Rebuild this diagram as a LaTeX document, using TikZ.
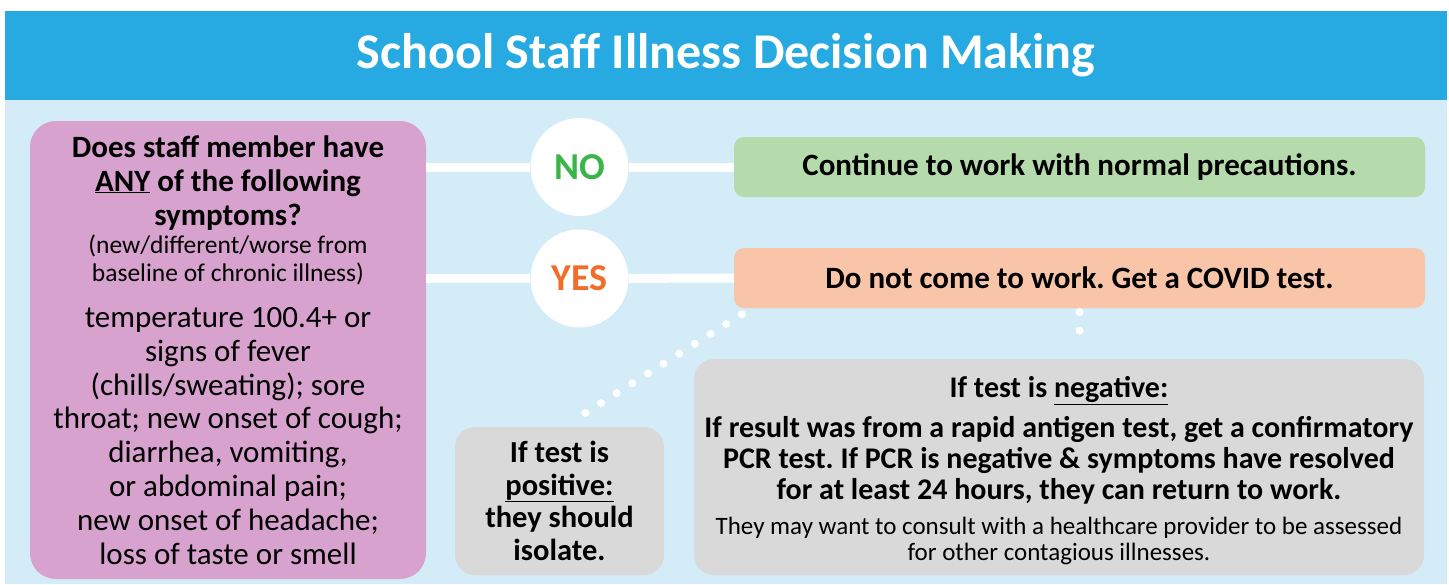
\documentclass[tikz,border=0pt]{standalone}
\usepackage{fontspec}
\setmainfont{Carlito}
\usepackage{xcolor}
\usepackage{tikz}
\usetikzlibrary{calc,positioning}
\frenchspacing
\definecolor{headblue}{HTML}{27A9E1}
\definecolor{paleblue}{HTML}{D4ECF8}
\definecolor{symppink}{HTML}{D8A2CF}
\definecolor{nogreen}{HTML}{B5DBAC}
\definecolor{yesorange}{HTML}{F9C5A9}
\definecolor{testgrey}{HTML}{D9D9D9}
\definecolor{notext}{HTML}{39B54A}
\definecolor{yestext}{HTML}{F26C2A}
\newcommand{\fsz}[2]{\fontsize{#1}{#2}\selectfont}
\tikzset{
  box/.style={rounded corners=10pt, align=center, inner sep=0pt},
  outbox/.style={box, minimum width=691, minimum height=60, font=\fsz{31}{34}\bfseries},
  testbox/.style={box, rounded corners=20pt, fill=testgrey},
  answer/.style={circle, fill=white, minimum size=98, inner sep=0pt, font=\fsz{38}{40}\bfseries},
  link/.style={white, line width=9pt},
  dots/.style={white, line width=8pt, line cap=round, dash pattern=on 0pt off 18.5pt}
}

\begin{document}
\begin{tikzpicture}[x=1pt, y=-1pt]
  \useasboundingbox (0,0) rectangle (1449,584);
  \fill[paleblue] (5,100) rectangle (1447,584);
  \node[fill=headblue, minimum width=1442, minimum height=89, inner sep=0pt,
        text=white, font=\fsz{50}{54}\bfseries] (title) at (726,55.5)
        {School Staff Illness Decision Making};

  \node[box, rounded corners=26pt, fill=symppink, minimum width=396, minimum height=458,
        font=\fsz{31}{33.8}] (symp) at (228,350)
    {\bfseries Does staff member have\\
     \bfseries \underline{ANY} of the following\\
     \bfseries symptoms?\\[-5pt]
     \fsz{25.5}{28}(new/different/worse from\\[-6pt]
     \fsz{25.5}{28}baseline of chronic illness)\\[12pt]
     temperature 100.4+ or\\
     signs of fever\\
     (chills/sweating); sore\\
     throat; new onset of cough;\\
     diarrhea, vomiting,\\
     or abdominal pain;\\
     new onset of headache;\\
     loss of taste or smell};

  \node[answer, text=notext] (no) at (579.5,167) {NO};
  \node[answer, text=yestext, below=13pt of no] (yes) {YES};

  \node[outbox, fill=nogreen] (work) at (1079.5,167) {Continue to work with normal precautions.};
  \node[outbox, fill=yesorange] (covid) at (1079.5,278) {Do not come to work. Get a COVID test.};

  \node[testbox, minimum width=209, minimum height=148, font=\fsz{30.5}{32.5}\bfseries] (pos) at (559.5,501)
    {If test is\\
     \underline{positive:}\\
     they should\\
     isolate.};

  \node[testbox, minimum width=730, minimum height=216, font=\fsz{30}{31}\bfseries] (neg) at (1059,467)
    {\rule{0pt}{28pt}If test is \underline{negative:}\\[9pt]
     If result was from a rapid antigen test, get a confirmatory\\
     PCR test. If PCR is negative \& symptoms have resolved\\
     for at least 24 hours, they can return to work.\\[4pt]
     \fsz{25}{26}\mdseries They may want to consult with a healthcare provider to be assessed\\[-5pt]
     \fsz{25}{26}\mdseries for other contagious illnesses.};

  % connectors
  \draw[link] (symp.east |- no.center) -- (no.west);
  \draw[link] (no.east) -- (work.west);
  \draw[link] (symp.east |- yes.center) -- (yes.west);
  \draw[link] (yes.east) -- (covid.west);
  \draw[dots] ($(covid.south west)+(8,6)$) -- ($(pos.north)+(24.5,-13)$);
  \draw[dots] ([yshift=-4pt]covid.south) -- ([yshift=11pt]covid.south |- neg.north);
\end{tikzpicture}
\end{document}
